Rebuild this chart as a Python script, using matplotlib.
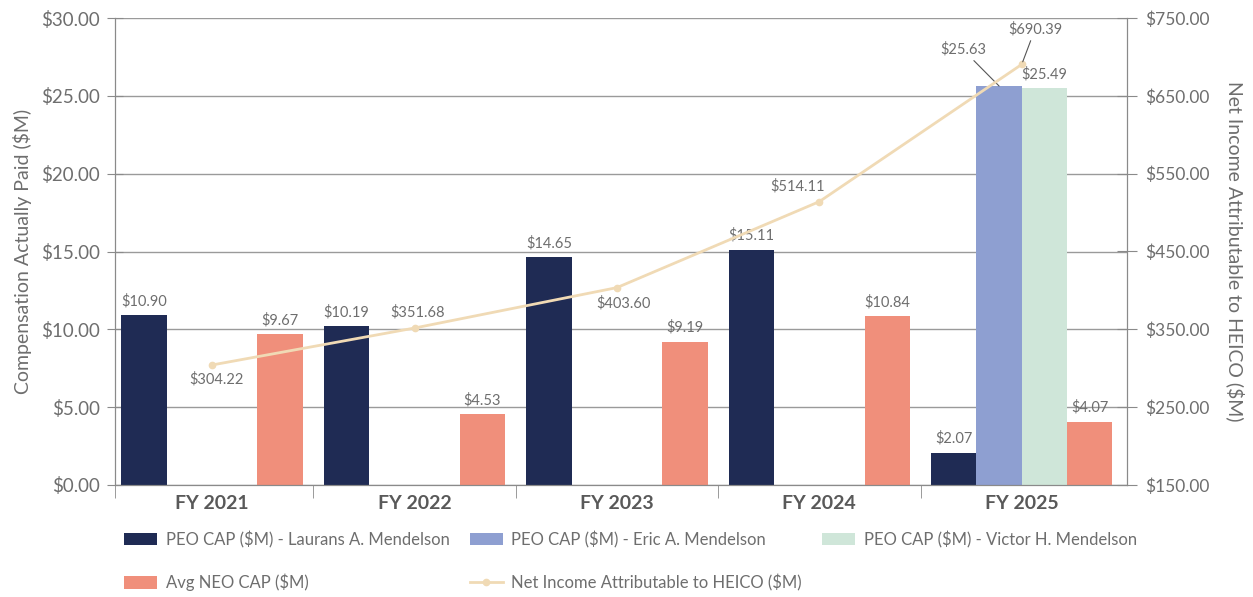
import matplotlib.pyplot as plt
import numpy as np

# data
years = ['FY 2021', 'FY 2022', 'FY 2023', 'FY 2024', 'FY 2025']
peo_laurans = [10.90, 10.19, 14.65, 15.11, 2.07]
peo_eric = [np.nan, np.nan, np.nan, np.nan, 25.63]
peo_victor = [np.nan, np.nan, np.nan, np.nan, 25.49]
avg_neo = [9.67, 4.53, 9.19, 10.84, 4.07]
net_income = [304.22, 351.68, 403.60, 514.11, 690.39]

c_laurans = '#1f2b54'
c_eric = '#8e9fd1'
c_victor = '#cfe6d9'
c_neo = '#f08f7b'
c_line = '#f0dab5'
grey = '#6e6e6e'
axcol = '#8a8a8a'

plt.rcParams['font.family'] = ['Lato', 'DejaVu Sans']

fig = plt.figure(figsize=(12.53, 5.97), dpi=100)
ax = fig.add_axes([115 / 1253, 1 - 485 / 597, 1012 / 1253, 467 / 597])
ax2 = ax.twinx()

x = np.arange(len(years))
w = 0.224
series = [(peo_laurans, c_laurans, 'PEO CAP ($M) - Laurans A. Mendelson'),
          (peo_eric, c_eric, 'PEO CAP ($M) - Eric A. Mendelson'),
          (peo_victor, c_victor, 'PEO CAP ($M) - Victor H. Mendelson'),
          (avg_neo, c_neo, 'Avg NEO CAP ($M)')]
bars = []
for k, (vals, col, lab) in enumerate(series):
    xs = x + (k - 1.5) * w
    b = ax.bar(xs, vals, w, color=col, label=lab, zorder=2)
    bars.append(b)
    for xi, v in zip(xs, vals):
        if np.isnan(v):
            continue
        if lab.endswith('Eric A. Mendelson'):
            # label pulled up-left with a leader line
            ax.annotate(f'${v:.2f}', xy=(xi, v), xytext=(-26, 21),
                        textcoords='offset points', ha='center', va='bottom',
                        fontsize=10.5, color=grey,
                        arrowprops=dict(arrowstyle='-', color='#555555', lw=0.8,
                                        shrinkA=1, shrinkB=0))
        else:
            ax.annotate(f'${v:.2f}', xy=(xi, v), xytext=(0, 5),
                        textcoords='offset points', ha='center', va='bottom',
                        fontsize=10.5, color=grey)

line, = ax2.plot(x, net_income, color=c_line, lw=2, marker='o', ms=4.5,
                 label='Net Income Attributable to HEICO ($M)', zorder=3)

# line labels (offsets in points)
offs = [(3, -5, 'top'), (2, 6, 'bottom'), (5, -6, 'top'), (-16, 6, 'bottom'), (9.5, 20, 'bottom')]
for i, v in enumerate(net_income):
    dx, dy, va = offs[i]
    if i == 4:
        ax2.annotate(f'${v:.2f}', xy=(x[i], v), xytext=(dx, dy),
                     textcoords='offset points', ha='center', va=va,
                     fontsize=10.5, color=grey,
                     arrowprops=dict(arrowstyle='-', color='#555555', lw=0.8,
                                     shrinkA=1, shrinkB=2))
    else:
        ax2.annotate(f'${v:.2f}', xy=(x[i], v), xytext=(dx, dy),
                     textcoords='offset points', ha='center', va=va,
                     fontsize=10.5, color=grey)

ax.set_xlim(-0.48, 4.52)
ax.set_ylim(0, 30)
ax2.set_ylim(150, 750)
ax.set_yticks(np.arange(0, 30.1, 5))
ax2.set_yticks(np.arange(150, 751, 100))
ax.set_yticklabels([f'${t:.2f}' for t in np.arange(0, 30.1, 5)])
ax2.set_yticklabels([f'${t:.2f}' for t in np.arange(150, 751, 100)])

ax.set_xticks(x)
ax.set_xticklabels(years, fontsize=14, fontweight='bold', color='#595959')
ax.set_xticks([-0.48, 0.5, 1.5, 2.5, 3.5], minor=True)
ax.tick_params(axis='x', which='major', length=0, pad=7)
ax.tick_params(axis='x', which='minor', length=9, color=axcol)

ax.tick_params(axis='y', labelsize=13.5, labelcolor=grey, color=axcol, direction='inout', length=12, pad=5)
ax2.tick_params(axis='y', labelsize=12.5, labelcolor=grey, color=axcol, direction='inout', length=14, pad=6)

ax.grid(axis='y', color='#9a9a9a', lw=1)
ax.set_axisbelow(True)

for a in (ax, ax2):
    a.spines['top'].set_visible(False)
    for s in ('left', 'right', 'bottom'):
        a.spines[s].set_color(axcol)

ax.set_ylabel('Compensation Actually Paid ($M)', fontsize=14, color=grey, labelpad=6)
ax2.set_ylabel('Net Income Attributable to HEICO ($M)', fontsize=14, color=grey,
               rotation=270, labelpad=25)

handles = [bars[0], bars[3], bars[1], line, bars[2]]
labels = [h.get_label() for h in handles]
fig.legend(handles, labels, loc='upper left', bbox_to_anchor=(109 / 1253, 1 - 516 / 597),
           ncol=3, frameon=False, fontsize=12, labelcolor=grey,
           handlelength=2.0, handleheight=0.75, handletextpad=0.5,
           columnspacing=1.2, labelspacing=1.55)

fig.savefig('out.png', dpi=100)
